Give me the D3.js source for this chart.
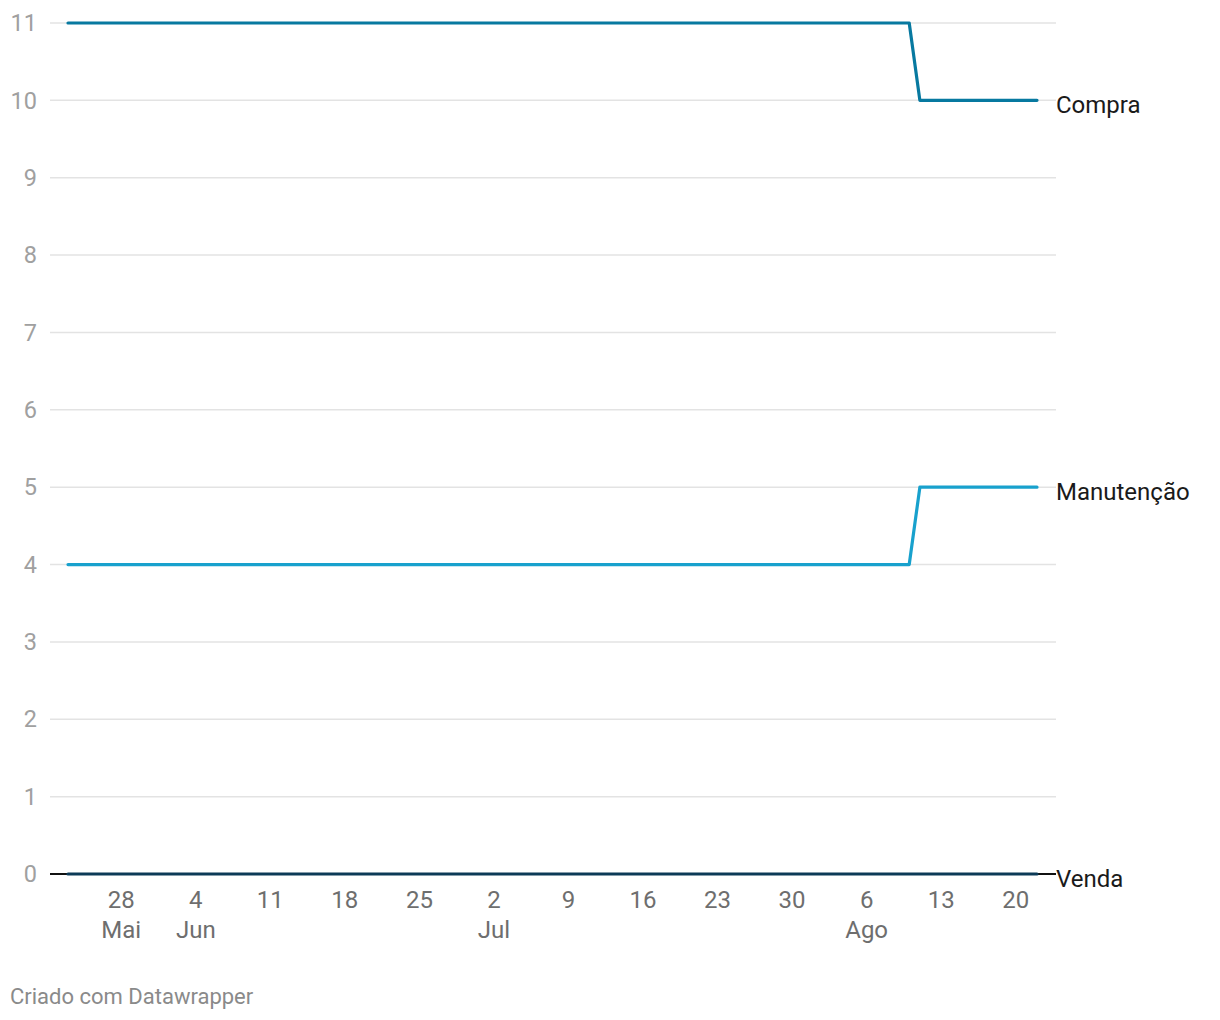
<!DOCTYPE html>
<html>
<head>
<meta charset="utf-8">
<script src="https://cdn.jsdelivr.net/npm/d3@7"></script>
<style>
  body { margin: 0; background: #fff; font-family: Roboto, sans-serif; }
</style>
</head>
<body>
<div id="app"></div>
<script>
// change points (values hold between them)
const dates = ["2023-05-23", "2023-08-10", "2023-08-11", "2023-08-22"];
const compra = [11, 11, 10, 10];
const manutencao = [4, 4, 5, 5];
const venda = [0, 0, 0, 0];

const series = [
  { name: "Compra", values: compra, color: "#0779a0" },
  { name: "Manutenção", values: manutencao, color: "#18a1cd" },
  { name: "Venda", values: venda, color: "#0c3a57" }
];

const yTicks = [0, 1, 2, 3, 4, 5, 6, 7, 8, 9, 10, 11];
const xTicks = ["2023-05-28", "2023-06-04", "2023-06-11", "2023-06-18", "2023-06-25",
  "2023-07-02", "2023-07-09", "2023-07-16", "2023-07-23", "2023-07-30",
  "2023-08-06", "2023-08-13", "2023-08-20"];
const months = ["Jan", "Fev", "Mar", "Abr", "Mai", "Jun", "Jul", "Ago", "Set", "Out", "Nov", "Dez"];

const width = 1220, height = 1020;
const parse = d3.utcParse("%Y-%m-%d");
const D = dates.map(parse);

const x = d3.scaleUtc().domain(d3.extent(D)).range([68, 1037]);
const y = d3.scaleLinear().domain([0, 11]).range([874, 23]);

const svg = d3.select("#app").append("svg")
    .attr("width", width)
    .attr("height", height)
    .attr("viewBox", [0, 0, width, height]);

// grid
svg.append("g")
  .selectAll("line")
  .data(yTicks.filter(d => d !== 0))
  .join("line")
    .attr("x1", 50).attr("x2", 1056)
    .attr("y1", d => y(d)).attr("y2", d => y(d))
    .attr("stroke", "#e3e3e3")
    .attr("stroke-width", 1.5);

svg.append("g")
  .selectAll("text")
  .data(yTicks)
  .join("text")
    .attr("x", 37)
    .attr("y", d => y(d))
    .attr("dy", "0.35em")
    .attr("text-anchor", "end")
    .attr("fill", "#a0a0a0")
    .attr("font-size", 23.5)
    .text(d => d);

// x labels
let prevMonth = null;
const xg = svg.append("g")
  .selectAll("g")
  .data(xTicks.map(parse))
  .join("g")
    .attr("transform", d => `translate(${x(d)},0)`);

xg.append("text")
    .attr("y", 908)
    .attr("text-anchor", "middle")
    .attr("fill", "#6e6e6e")
    .attr("font-size", 24)
    .text(d => d.getUTCDate());

xg.append("text")
    .attr("y", 938)
    .attr("text-anchor", "middle")
    .attr("fill", "#6e6e6e")
    .attr("font-size", 24)
    .text((d, i) => {
      const m = d.getUTCMonth();
      const show = m !== prevMonth;
      prevMonth = m;
      return show ? months[m] : "";
    });

// baseline
svg.append("line")
    .attr("x1", 50).attr("x2", 1056)
    .attr("y1", y(0)).attr("y2", y(0))
    .attr("stroke", "#111")
    .attr("stroke-width", 2);

const line = d3.line()
    .x((d, i) => x(D[i]))
    .y(d => y(d));

svg.append("g")
  .selectAll("path")
  .data(series)
  .join("path")
    .attr("fill", "none")
    .attr("stroke", d => d.color)
    .attr("stroke-width", 3.2)
    .attr("stroke-linecap", "round")
    .attr("stroke-linejoin", "round")
    .attr("d", d => line(d.values));

svg.append("g")
  .selectAll("text")
  .data(series)
  .join("text")
    .attr("x", 1056)
    .attr("y", d => y(d.values[d.values.length - 1]))
    .attr("dy", "0.54em")
    .attr("fill", "#1a1a1a")
    .attr("font-size", 24)
    .text(d => d.name);

svg.append("text")
    .attr("x", 10)
    .attr("y", 1004)
    .attr("fill", "#8a8a8a")
    .attr("font-size", 22)
    .text("Criado com Datawrapper");
</script>
</body>
</html>
